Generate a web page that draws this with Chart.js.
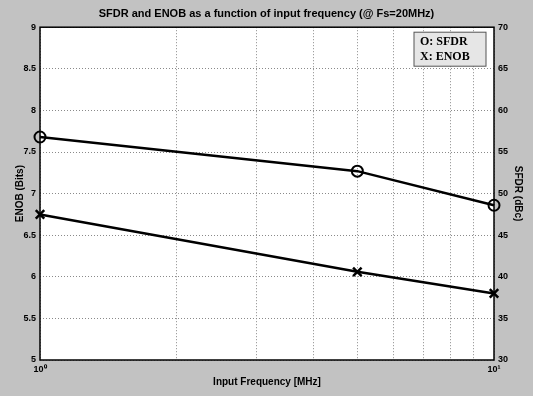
<!DOCTYPE html>
<html>
<head>
<meta charset="utf-8">
<script src="https://cdn.jsdelivr.net/npm/chart.js@4"></script>
<style>
  html, body { margin: 0; padding: 0; background: #c2c2c2; }
  #wrap { width: 533px; height: 396px; }
</style>
</head>
<body>
<div id="wrap"><canvas id="chart" width="533" height="396"></canvas></div>
<script>
// data
var freqMHz = [1, 5, 10];
var sfdrDbc = [56.8, 52.7, 48.6];
var enobBits = [6.75, 6.06, 5.8];
var freqTicks = [1, 2, 3, 4, 5, 6, 7, 8, 9, 10];
var enobTicks = [5, 5.5, 6, 6.5, 7, 7.5, 8, 8.5, 9];
var sfdrTicks = [30, 35, 40, 45, 50, 55, 60, 65, 70];

function pts(xs, ys) {
  var out = [];
  for (var i = 0; i < xs.length; i++) out.push({ x: xs[i], y: ys[i] });
  return out;
}

var tickFont = { family: 'Liberation Sans', size: 9, weight: 'bold' };

// gray figure background, white axes, black box
var framePlugin = {
  id: 'frame',
  beforeDraw: function(chart) {
    var c = chart.ctx, a = chart.chartArea;
    c.save();
    c.fillStyle = '#c2c2c2';
    c.fillRect(0, 0, chart.width, chart.height);
    c.fillStyle = '#ffffff';
    c.fillRect(a.left, a.top, a.right - a.left, a.bottom - a.top);
    c.restore();
  },
  afterDatasetsDraw: function(chart) {
    var c = chart.ctx, a = chart.chartArea;
    c.save();
    c.strokeStyle = '#000';
    c.lineWidth = 1.5;
    c.strokeRect(a.left, a.top, a.right - a.left, a.bottom - a.top);
    // legend box
    var x = a.right - 80, y = a.top + 5;
    c.fillStyle = '#e6e6e6';
    c.fillRect(x, y, 72, 34);
    c.strokeStyle = '#555';
    c.lineWidth = 1;
    c.strokeRect(x, y, 72, 34);
    c.fillStyle = '#000';
    c.font = 'bold 12px "Liberation Serif"';
    c.textBaseline = 'middle';
    c.fillText('O: SFDR', x + 6, y + 10);
    c.fillText('X: ENOB', x + 6, y + 25);
    c.restore();
  }
};

function fixed(list) {
  return function(s) { s.ticks = list.map(function(v) { return { value: v }; }); };
}

new Chart(document.getElementById('chart'), {
  type: 'line',
  data: {
    datasets: [{
      label: 'SFDR',
      data: pts(freqMHz, sfdrDbc),
      yAxisID: 'y1',
      clip: false,
      borderColor: '#000',
      borderWidth: 2.5,
      pointStyle: 'circle',
      pointRadius: 5.5,
      pointBorderWidth: 2,
      pointBackgroundColor: 'rgba(0,0,0,0)',
      pointBorderColor: '#000'
    }, {
      label: 'ENOB',
      data: pts(freqMHz, enobBits),
      yAxisID: 'y',
      clip: false,
      borderColor: '#000',
      borderWidth: 2.5,
      pointStyle: 'crossRot',
      pointRadius: 6,
      pointBorderWidth: 2.5,
      pointBorderColor: '#000'
    }]
  },
  options: {
    responsive: false,
    animation: false,
    layout: { padding: 0 },
    plugins: {
      legend: { display: false },
      tooltip: { enabled: false },
      title: {
        display: true,
        text: 'SFDR and ENOB as a function of input frequency (@ Fs=20MHz)',
        color: '#000',
        font: { family: 'Liberation Sans', size: 11, weight: 'bold' },
        padding: { top: 7, bottom: 7 }
      }
    },
    scales: {
      x: {
        type: 'logarithmic',
        min: 1,
        max: 10,
        afterFit: function(s) { s.height = 36; },
        afterBuildTicks: fixed(freqTicks),
        grid: { color: '#8a8a8a', drawTicks: false },
        border: { display: false, dash: [1, 2] },
        ticks: {
          color: '#000',
          font: tickFont,
          padding: 4,
          autoSkip: false,
          maxRotation: 0,
          callback: function(v) {
            if (v === 1) return '10\u2070';
            if (v === 10) return '10\u00b9';
            return '';
          }
        },
        title: {
          display: true,
          text: 'Input Frequency [MHz]',
          color: '#000',
          font: { family: 'Liberation Sans', size: 10, weight: 'bold' },
          padding: { top: 0, bottom: 8 }
        }
      },
      y: {
        position: 'left',
        min: 5,
        max: 9,
        afterFit: function(s) { s.width = 40; },
        afterBuildTicks: fixed(enobTicks),
        grid: { color: '#8a8a8a', drawTicks: false },
        border: { display: false, dash: [1, 2] },
        ticks: {
          color: '#000', font: tickFont, padding: 4,
          callback: function(v) { return String(v); }
        },
        title: {
          display: true,
          text: 'ENOB (Bits)',
          color: '#000',
          font: { family: 'Liberation Sans', size: 10, weight: 'bold' },
          padding: { top: 14, bottom: 0 }
        }
      },
      y1: {
        position: 'right',
        min: 30,
        max: 70,
        afterFit: function(s) { s.width = 39; },
        afterBuildTicks: fixed(sfdrTicks),
        grid: { drawOnChartArea: false, drawTicks: false },
        border: { display: false },
        ticks: {
          color: '#000', font: tickFont, padding: 4,
          callback: function(v) { return String(v); }
        },
        title: {
          display: true,
          text: 'SFDR (dBc)',
          color: '#000',
          font: { family: 'Liberation Sans', size: 10, weight: 'bold' },
          padding: { top: 9, bottom: 0 }
        }
      }
    }
  },
  plugins: [framePlugin]
});
</script>
</body>
</html>
